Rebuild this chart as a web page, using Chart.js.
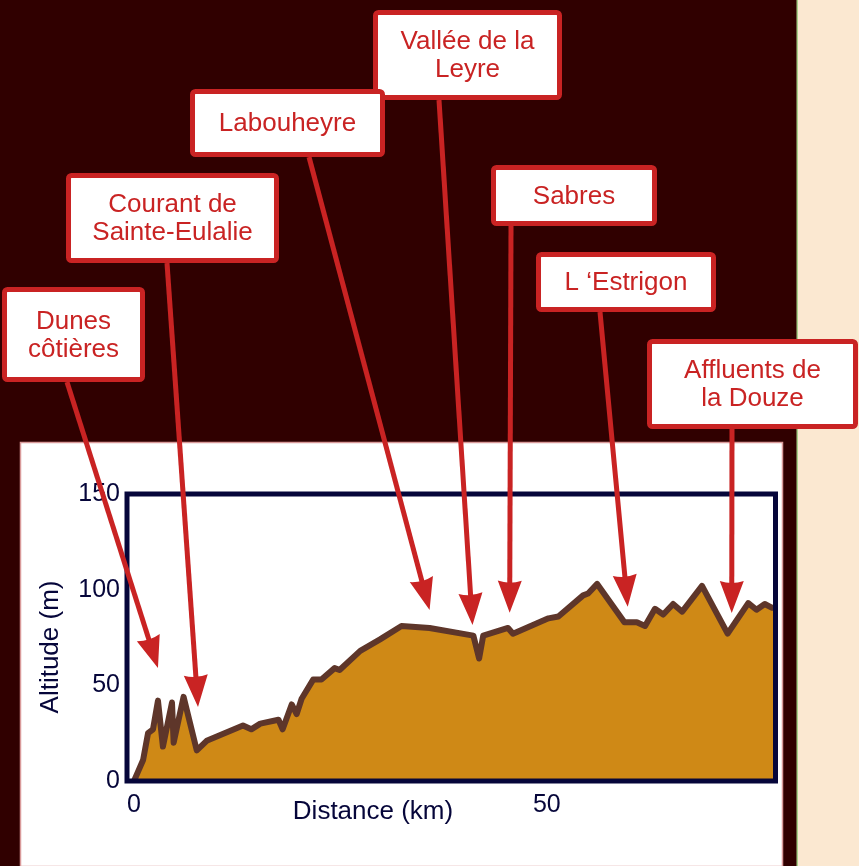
<!DOCTYPE html>
<html lang="fr">
<head>
<meta charset="utf-8">
<title>Profil altimétrique</title>
<script src="https://cdn.jsdelivr.net/npm/chart.js@4.4.1/dist/chart.umd.min.js"></script>
<style>
    html, body { margin: 0; padding: 0; background: #300000; overflow: hidden; }
    canvas { display: block; }
</style>
</head>
<body>
<canvas id="profile-chart" width="859" height="866"></canvas>
<script>
'use strict';

// profil : distance (km) / altitude (m)
const distanceKm = [0, 0.5, 1.1, 1.7, 2.3, 2.9, 3.5, 4.6, 4.8, 6.0, 7.6, 8.8, 13.2, 14.2, 15.3, 17.5, 18.0,
    19.1, 19.7, 20.3, 21.7, 22.7, 24.3, 24.9, 27.4, 29.8, 32.4, 35.8, 41.1, 41.8, 42.3, 45.3, 45.9,
    50.2, 51.4, 54.4, 55.0, 56.1, 59.4, 60.9, 61.9, 63.1, 64.1, 65.3, 66.4, 68.8, 71.9, 74.4, 75.4,
    76.4, 77.3, 78.2];
const altitudeM = [0, 5, 11, 25, 27, 42, 18, 41, 20, 44, 16, 21, 29, 27, 30, 32, 27,
    40, 35, 43, 53, 53, 59, 58, 68, 74, 81, 80, 76, 64, 76, 80, 77,
    85, 86, 97, 98, 103, 83, 83, 81, 90, 87, 92.5, 88.5, 102, 77, 93, 89.5,
    92.5, 90.5, 91.5];

const xTicks = [0, 50];
const yTicks = [0, 50, 100, 150];

// lieux annotés et point visé sur le profil
const placeNames = [
    ['Dunes', 'côtières'],
    ['Courant de', 'Sainte-Eulalie'],
    ['Vallée de la', 'Leyre'],
    ['Labouheyre'],
    ['Sabres'],
    ['L \u2018Estrigon'],
    ['Affluents de', 'la Douze']
];
const placeKm = [2.9, 7.75, 41.0, 35.8, 45.5, 59.8, 72.4];
const placeAlt = [59, 38.7, 81.5, 89.4, 88, 91.1, 87.8];

// position des cadres (px) et départ des flèches
const calloutBoxes = [
    { x: 2, y: 287, w: 143, h: 95, ax: 67, ay: 382 },
    { x: 66, y: 173, w: 213, h: 90, ax: 167, ay: 263 },
    { x: 373, y: 10, w: 189, h: 90, ax: 439, ay: 100 },
    { x: 190, y: 89, w: 195, h: 68, ax: 309, ay: 157 },
    { x: 491, y: 165, w: 166, h: 61, ax: 511, ay: 226 },
    { x: 536, y: 252, w: 180, h: 60, ax: 600, ay: 312 },
    { x: 647, y: 339, w: 211, h: 90, ax: 732, ay: 429 }
];

const RED = '#c92323';
const NAVY = '#06063a';
const FONT = '"Liberation Sans", Arial, sans-serif';

function drawArrow(ctx, x0, y0, x1, y1) {
    const ang = Math.atan2(y1 - y0, x1 - x0);
    const c = Math.cos(ang), s = Math.sin(ang);
    const headLen = 32, half = 12, notch = 6;
    const nx = x1 - c * (headLen - notch), ny = y1 - s * (headLen - notch);

    ctx.strokeStyle = RED;
    ctx.fillStyle = RED;
    ctx.lineWidth = 5;
    ctx.beginPath();
    ctx.moveTo(x0, y0);
    ctx.lineTo(nx, ny);
    ctx.stroke();

    const bx = x1 - c * headLen, by = y1 - s * headLen;
    ctx.beginPath();
    ctx.moveTo(x1, y1);
    ctx.lineTo(bx - s * half, by + c * half);
    ctx.quadraticCurveTo(nx - c * 2, ny - s * 2, bx + s * half, by - c * half);
    ctx.closePath();
    ctx.fill();
}

function drawBox(ctx, box, lines) {
    ctx.beginPath();
    ctx.roundRect(box.x + 2.5, box.y + 2.5, box.w - 5, box.h - 5, 3);
    ctx.fillStyle = '#ffffff';
    ctx.fill();
    ctx.lineWidth = 5;
    ctx.strokeStyle = RED;
    ctx.stroke();

    ctx.fillStyle = RED;
    ctx.font = '26px ' + FONT;
    ctx.textAlign = 'center';
    ctx.textBaseline = 'middle';
    const lh = 28;
    const cy = box.y + box.h / 2 + 1 - (lines.length - 1) * lh / 2;
    lines.forEach((t, i) => ctx.fillText(t, box.x + box.w / 2, cy + i * lh));
}

// fond : bordeaux, bande papier à droite, panneau blanc
const backdrop = {
    id: 'backdrop',
    beforeDraw(chart) {
        const ctx = chart.ctx;
        ctx.save();
        ctx.fillStyle = '#300000';
        ctx.fillRect(0, 0, chart.width, chart.height);
        ctx.fillStyle = '#fbe8d1';
        ctx.fillRect(797, 0, chart.width - 797, chart.height);
        ctx.fillStyle = '#a8d08a';
        ctx.fillRect(796.5, 0, 1.5, chart.height);
        ctx.fillStyle = '#ffffff';
        ctx.fillRect(20, 442, 763, chart.height - 442);
        ctx.strokeStyle = '#d99a9a';
        ctx.lineWidth = 1.5;
        ctx.strokeRect(20.5, 442.5, 762, chart.height - 442);
        ctx.restore();
    }
};

// cadre, titres d'axes, annotations
const overlay = {
    id: 'overlay',
    afterDatasetsDraw(chart) {
        const { ctx, chartArea: a } = chart;
        ctx.save();
        ctx.strokeStyle = NAVY;
        ctx.lineWidth = 5;
        ctx.strokeRect(a.left, a.top, a.right - a.left, a.bottom - a.top);

        ctx.fillStyle = NAVY;
        ctx.font = '26px ' + FONT;
        ctx.textAlign = 'center';
        ctx.textBaseline = 'middle';
        ctx.fillText('Distance (km)', 373, 812);
        ctx.translate(51, 647);
        ctx.rotate(-Math.PI / 2);
        ctx.fillText('Altitude (m)', 0, 0);
        ctx.restore();
    },
    afterDraw(chart) {
        const ctx = chart.ctx;
        const xs = chart.scales.x, ys = chart.scales.y;
        ctx.save();
        calloutBoxes.forEach((b, i) => {
            drawArrow(ctx, b.ax, b.ay, xs.getPixelForValue(placeKm[i]), ys.getPixelForValue(placeAlt[i]));
        });
        calloutBoxes.forEach((b, i) => drawBox(ctx, b, placeNames[i]));
        ctx.restore();
    }
};

const profilePoints = distanceKm.map((d, i) => ({ x: d, y: altitudeM[i] }));

new Chart(document.getElementById('profile-chart'), {
    type: 'line',
    data: {
        datasets: [{
            data: profilePoints,
            borderColor: '#5e362a',
            backgroundColor: '#cf8916',
            borderWidth: 6,
            borderJoinStyle: 'round',
            fill: 'origin',
            tension: 0,
            pointRadius: 0
        }]
    },
    options: {
        responsive: false,
        animation: false,
        devicePixelRatio: 1,
        layout: { padding: { left: 0, top: 494, right: 83.5, bottom: 0 } },
        plugins: { legend: { display: false }, tooltip: { enabled: false } },
        scales: {
            x: {
                type: 'linear',
                min: -0.85,
                max: 77.7,
                grid: { display: false, drawTicks: false },
                border: { display: false },
                afterBuildTicks: s => { s.ticks = xTicks.map(v => ({ value: v })); },
                afterFit: s => { s.height = 85; },
                ticks: {
                    color: NAVY,
                    font: { family: FONT, size: 25 },
                    padding: 9,
                    maxRotation: 0
                }
            },
            y: {
                min: 0,
                max: 150,
                grid: { display: false, drawTicks: false },
                border: { display: false },
                afterBuildTicks: s => { s.ticks = yTicks.map(v => ({ value: v })); },
                afterFit: s => { s.width = 127; },
                ticks: {
                    color: NAVY,
                    font: { family: FONT, size: 25 },
                    padding: 7
                }
            }
        }
    },
    plugins: [backdrop, overlay]
});
</script>
</body>
</html>
